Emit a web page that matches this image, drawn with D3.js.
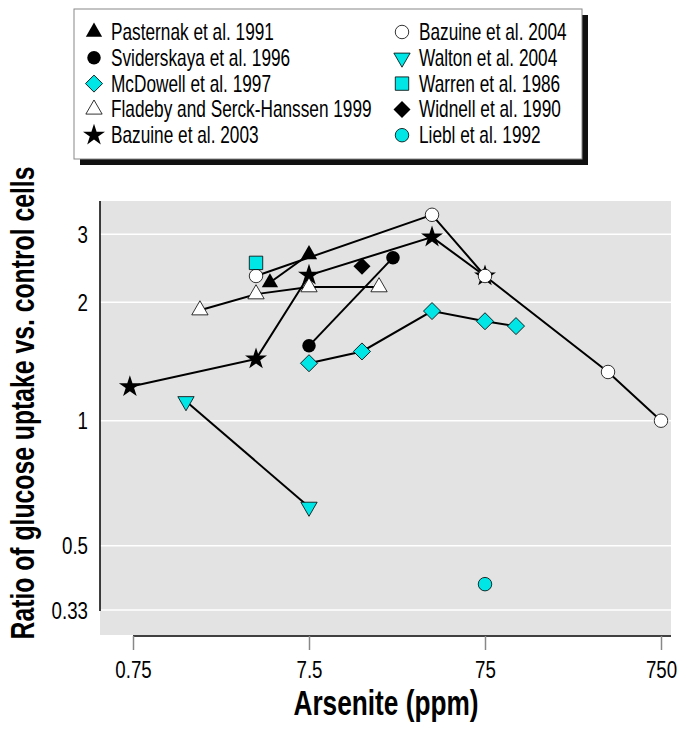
<!DOCTYPE html>
<html lang="en">
<head>
    <meta charset="UTF-8">
    <title>Arsenite and glucose uptake</title>
    <script src="https://d3js.org/d3.v7.min.js"></script>
    <style>
        body { margin: 0; background: white; }
        svg { display: block; }
        text { font-family: "Liberation Sans", Arial, sans-serif; }
    </style>
</head>
<body>
    <svg width="691" height="733"></svg>

    <script>
        // studies, in legend order (left column then right column)
        const studies = ["Pasternak et al. 1991", "Sviderskaya et al. 1996", "McDowell et al. 1997",
            "Fladeby and Serck-Hanssen 1999", "Bazuine et al. 2003", "Bazuine et al. 2004",
            "Walton et al. 2004", "Warren et al. 1986", "Widnell et al. 1990", "Liebl et al. 1992"];

        // [arsenite ppm, ratio]
        const pasternak = [[4.5, 2.25], [7.5, 2.66]];
        const sviderskaya = [[7.5, 1.55], [22.5, 2.61]];
        const mcdowell = [[7.5, 1.40], [15, 1.50], [37.5, 1.90], [75, 1.79], [112.5, 1.74]];
        const fladeby = [[1.8, 1.91], [3.75, 2.10], [7.5, 2.19], [18.75, 2.19]];
        const bazuine2003 = [[0.72, 1.22], [3.75, 1.435], [7.5, 2.35], [37.5, 2.95], [75, 2.34]];
        const bazuine2004 = [[3.75, 2.34], [37.5, 3.37], [75, 2.34], [375, 1.33], [750, 1.0]];
        const walton = [[1.5, 1.12], [7.5, 0.62]];
        const warren = [[3.75, 2.53]];
        const widnell = [[15, 2.48]];
        const liebl = [[75, 0.39]];

        const xTicks = [0.75, 7.5, 75, 750];
        const yTicks = [0.33, 0.5, 1, 2, 3];

        const cyan = "#00e5e5";
        // no condensed face installed, so squeeze the regular one
        const narrow = k => `scale(${k},1)`;
        const star = d3.symbol().type(d3.symbolStar).size(150)();
        const tri = d3.symbol().type(d3.symbolTriangle).size(115)();
        const circ = d3.symbol().type(d3.symbolCircle).size(143)();
        const sq = d3.symbol().type(d3.symbolSquare).size(180)();
        const dia = d3.symbol().type(d3.symbolSquare).size(145)();

        // marker for each study: path, fill, rotation
        const markers = {
            "Pasternak et al. 1991": [tri, "black", 0],
            "Sviderskaya et al. 1996": [circ, "black", 0],
            "McDowell et al. 1997": [dia, cyan, 45],
            "Fladeby and Serck-Hanssen 1999": [tri, "white", 0],
            "Bazuine et al. 2003": [star, "black", 0],
            "Bazuine et al. 2004": [circ, "white", 0],
            "Walton et al. 2004": [tri, cyan, 180],
            "Warren et al. 1986": [sq, cyan, 0],
            "Widnell et al. 1990": [dia, "black", 45],
            "Liebl et al. 1992": [circ, cyan, 0]
        };

        // drawing order (later ones on top)
        const series = [
            ["McDowell et al. 1997", mcdowell],
            ["Sviderskaya et al. 1996", sviderskaya],
            ["Bazuine et al. 2003", bazuine2003],
            ["Bazuine et al. 2004", bazuine2004],
            ["Fladeby and Serck-Hanssen 1999", fladeby],
            ["Pasternak et al. 1991", pasternak],
            ["Walton et al. 2004", walton],
            ["Warren et al. 1986", warren],
            ["Widnell et al. 1990", widnell],
            ["Liebl et al. 1992", liebl]
        ];

        const svg = d3.select("svg");

        const x = d3.scaleLog().domain([0.75, 750]).range([133, 661]);
        // the printed y axis is not quite evenly spaced, so map it piece by piece
        const y = d3.scaleLog().domain(yTicks).range([610, 545.7, 420.7, 302.3, 234.3]);

        // plot background
        svg.append("rect")
            .attr("x", 100).attr("y", 201)
            .attr("width", 571).attr("height", 434)
            .attr("fill", "#e3e3e3");

        svg.selectAll(".grid").data(yTicks).join("line")
            .attr("x1", 100).attr("x2", 671)
            .attr("y1", d => y(d)).attr("y2", d => y(d))
            .attr("stroke", "white").attr("stroke-width", 1.6);

        // y axis
        svg.append("line")
            .attr("x1", 100).attr("x2", 100).attr("y1", 201).attr("y2", 611)
            .attr("stroke", "black").attr("stroke-width", 1.5);
        svg.selectAll(".ylab").data(yTicks).join("text")
            .attr("transform", d => `translate(88,${y(d) + 8.5}) ${narrow(0.78)}`)
            .attr("text-anchor", "end")
            .attr("font-size", 24)
            .text(d => d);

        // x axis
        const xAxis = svg.append("g")
            .attr("transform", "translate(0,636)")
            .call(d3.axisBottom(x).tickValues(xTicks).tickFormat(d => d).tickSize(14).tickPadding(11));
        xAxis.select(".domain").attr("d", "M133,0H671").attr("stroke-width", 1.5);
        xAxis.selectAll(".tick line").attr("stroke", "#888").attr("stroke-width", 1.5);
        xAxis.selectAll(".tick text")
            .attr("font-size", 24).attr("font-family", null).attr("fill", "black")
            .attr("transform", narrow(0.78));

        // axis titles
        svg.append("text")
            .attr("transform", `translate(386,715) ${narrow(0.75)}`)
            .attr("text-anchor", "middle")
            .attr("font-size", 35).attr("font-weight", "bold")
            .text("Arsenite (ppm)");
        svg.append("text")
            .attr("transform", `translate(34,403) rotate(-90) ${narrow(0.75)}`)
            .attr("text-anchor", "middle")
            .attr("font-size", 33).attr("font-weight", "bold")
            .text("Ratio of glucose uptake vs. control cells");

        // lines and markers
        const line = d3.line().x(d => x(d[0])).y(d => y(d[1]));
        series.forEach(([name, pts]) => {
            const [shape, fill, rot] = markers[name];
            const g = svg.append("g");
            if (pts.length > 1) {
                g.append("path")
                    .attr("d", line(pts))
                    .attr("fill", "none").attr("stroke", "black").attr("stroke-width", 2);
            }
            g.selectAll("path.m").data(pts).join("path")
                .attr("class", "m")
                .attr("d", shape)
                .attr("transform", d => `translate(${x(d[0])},${y(d[1])}) rotate(${rot})`)
                .attr("fill", fill)
                .attr("stroke", fill === "black" ? "none" : "black")
                .attr("stroke-width", 0.8);
        });

        // legend
        const legend = svg.append("g");
        legend.append("rect")
            .attr("x", 80).attr("y", 15).attr("width", 508).attr("height", 150)
            .attr("fill", "#111");
        legend.append("rect")
            .attr("x", 74).attr("y", 9).attr("width", 508).attr("height", 150)
            .attr("fill", "white").attr("stroke", "#888").attr("stroke-width", 1);

        const items = legend.selectAll(".item").data(studies).join("g")
            .attr("transform", (d, i) => `translate(${i < 5 ? 94 : 402},${32 + (i % 5) * 25.8})`);
        items.append("path")
            .attr("d", d => markers[d][0])
            .attr("transform", d => `rotate(${markers[d][2]})`)
            .attr("fill", d => markers[d][1])
            .attr("stroke", d => markers[d][1] === "black" ? "none" : "black")
            .attr("stroke-width", 0.8);
        items.append("text")
            .attr("transform", `translate(17,8) ${narrow(0.75)}`)
            .attr("font-size", 23)
            .text(d => d);
    </script>
</body>
</html>
